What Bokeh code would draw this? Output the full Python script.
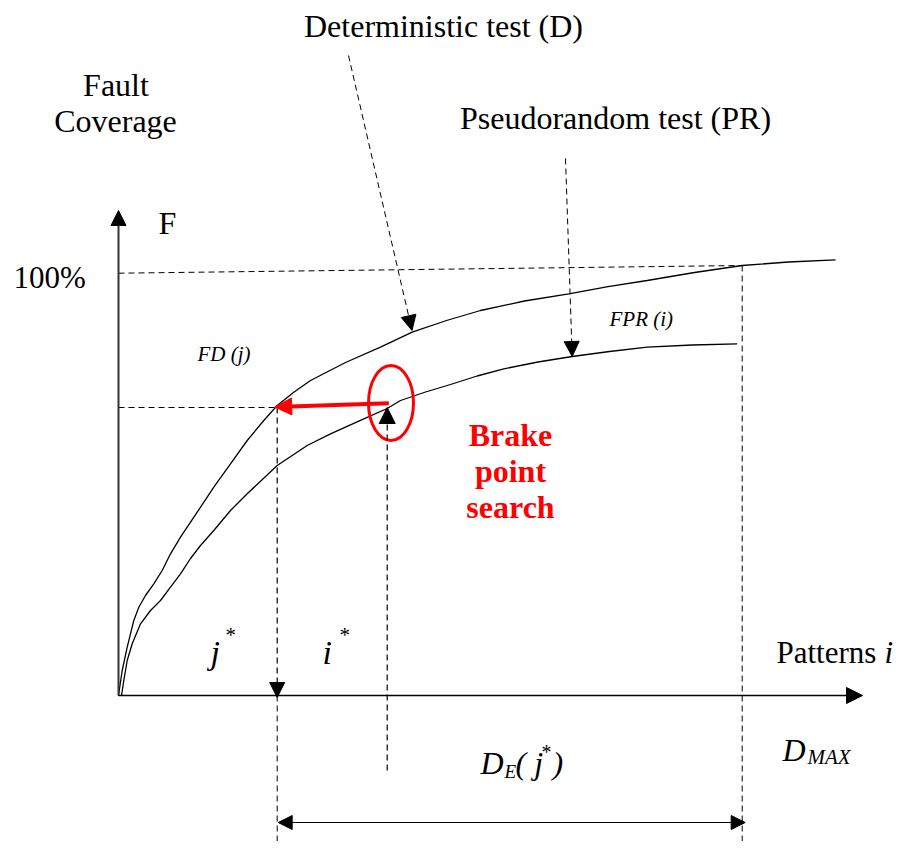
from bokeh.plotting import figure
from bokeh.models import Range1d, Arrow, NormalHead, Label
from bokeh.embed import file_html
from bokeh.resources import INLINE

# ---- data (diagram units: x = patterns from origin, y = fault coverage) ----
det_x = [0, 3.7, 8.7, 15.3, 20.3, 27, 35.3, 43.7, 52, 62, 78.7, 95.3, 112, 128.7, 145.3,
         158.7, 175.3, 192, 227, 262, 293.7, 328, 362, 406, 450.3, 489.5, 528.7, 576, 623.7,
         670, 717]
det_y = [0, 25, 48.3, 75, 88.3, 100, 111.7, 125, 141.7, 158.3, 183.3, 208.3, 231.7, 255, 275,
         290, 303.3, 315, 333, 348.3, 363.3, 375, 385, 394.5, 401.7, 408.8, 415, 423, 430,
         433.5, 435.7]

pr_x = [3, 5.3, 8.7, 13.7, 22, 32, 42, 52, 62, 72, 82, 95.3, 112, 128.7, 158.7, 188.7, 212,
        245.3, 268.7, 282, 307, 332, 358.6, 385.3, 419.5, 453.7, 491, 528.7, 573.7, 618.7]
pr_y = [0, 15, 35, 51.7, 71.7, 85, 95, 108.3, 121.7, 137, 150, 165, 185, 201.7, 230, 250,
        261.7, 276.7, 287, 295, 303.5, 311, 319.5, 326.7, 333.5, 339, 344, 348.3, 350.5, 351.7]

j_star = 158.7      # pattern count j*
i_star = 268.7      # pattern count i*
d_max = 623.7       # D_MAX
f_full = [422.3, 430]  # 100% level (left, right end)
f_brake = 288       # coverage at brake point
y_top = 485         # end of F axis
x_end = 744         # end of pattern axis

FONT = "Liberation Serif"

p = figure(width=896, height=841, output_backend="svg", toolbar_location=None,
           x_range=Range1d(-118, 778), y_range=Range1d(-146, 695),
           x_axis_type=None, y_axis_type=None, min_border=0)
p.outline_line_color = None
p.xgrid.visible = False
p.ygrid.visible = False
p.background_fill_color = "white"
p.border_fill_color = "white"

DASH = "6 4"

# curves
p.line(det_x, det_y, line_color="black", line_width=1.3)
p.line(pr_x, pr_y, line_color="black", line_width=1.3)

# axes with arrowheads
p.add_layout(Arrow(end=NormalHead(size=15, fill_color="black", line_color="black"),
                   x_start=0, y_start=0, x_end=0, y_end=y_top,
                   line_color="#333333", line_width=2))
p.add_layout(Arrow(end=NormalHead(size=16, fill_color="black", line_color="black"),
                   x_start=0, y_start=0, x_end=x_end, y_end=0,
                   line_color="black", line_width=1.5))

# dashed guides
p.line([0, d_max], f_full, line_color="black", line_dash=DASH, line_width=1)
p.line([0, j_star], [f_brake, f_brake], line_color="black", line_dash=DASH, line_width=1)
p.line([d_max, d_max], [f_full[1], -170], line_color="black", line_dash=DASH, line_width=1)
p.line([j_star, j_star], [0, -170], line_color="black", line_dash=DASH, line_width=1)

# j* arrow (down to axis)
p.add_layout(Arrow(end=NormalHead(size=15, fill_color="black", line_color="black"),
                   x_start=j_star, y_start=f_brake, x_end=j_star, y_end=-2,
                   line_color="black", line_width=1.2, line_dash=DASH))
# i* arrow (up to PR curve)
p.add_layout(Arrow(end=NormalHead(size=16, fill_color="black", line_color="black"),
                   x_start=i_star, y_start=-75, x_end=i_star, y_end=f_brake,
                   line_color="black", line_width=1.2, line_dash=DASH))

# label pointer arrows
p.add_layout(Arrow(end=NormalHead(size=15, fill_color="black", line_color="black"),
                   x_start=230, y_start=640, x_end=293.5, y_end=365,
                   line_color="black", line_width=1, line_dash=DASH))
p.add_layout(Arrow(end=NormalHead(size=15, fill_color="black", line_color="black"),
                   x_start=447, y_start=537, x_end=453.7, y_end=339,
                   line_color="black", line_width=1, line_dash=DASH))

# D_E(j*) double arrow
p.add_layout(Arrow(start=NormalHead(size=14, fill_color="black", line_color="black"),
                   end=NormalHead(size=14, fill_color="black", line_color="black"),
                   x_start=j_star + 1, y_start=-127, x_end=d_max + 3, y_end=-127,
                   line_color="black", line_width=1.2))

# brake point search: ellipse and red arrow
p.ellipse(x=[272.5], y=[292.5], width=[45], height=[75], fill_color=None,
          line_color="red", line_width=3)
p.add_layout(Arrow(end=NormalHead(size=17, fill_color="red", line_color="red"),
                   x_start=270.3, y_start=292.3, x_end=j_star - 2.5, y_end=288.5,
                   line_color="red", line_width=4))


def lab(x, y, t, size=32, style="normal", align="left", color="black"):
    # shift baseline so glyphs sit where the reference shows them
    p.add_layout(Label(x=x, y=y + size * 0.32, text=t, text_font=FONT,
                       text_font_size=f"{size}px", text_font_style=style,
                       text_align=align, text_baseline="alphabetic", text_color=color))


lab(325, 659, "Deterministic test (D)", align="center")
lab(-2.5, 600, "Fault", align="center")
lab(-3, 564, "Coverage", align="center")
lab(497, 567, "Pseudorandom test (PR)", align="center")
lab(40, 462, "F")
lab(-105, 408, "100%", size=31)
lab(79, 335, "FD (j)", size=21, style="italic")
lab(491, 370, "FPR (i)", size=21, style="italic")
lab(392, 250, "Brake", size=32, style="bold", align="center", color="red")
lab(392, 214, "point", size=32, style="bold", align="center", color="red")
lab(392, 178, "search", size=32, style="bold", align="center", color="red")
lab(92, 32, "j", size=34, style="italic")
lab(107, 54, "*", size=21)
lab(204, 32, "i", size=34, style="italic")
lab(221, 54, "*", size=21)
lab(658, 33, "Patterns", size=31)
lab(766, 33, "i", size=31, style="italic")
lab(362, -78, "D", size=32, style="italic")
lab(386, -82, "E", size=19, style="italic")
lab(397, -78, "( j", size=32, style="italic")
lab(423, -63, "*", size=20)
lab(434, -78, ")", size=32, style="italic")
lab(664, -65, "D", size=32, style="italic")
lab(689, -68, "MAX", size=21, style="italic")

open("out.html", "w").write(file_html(p, INLINE))
